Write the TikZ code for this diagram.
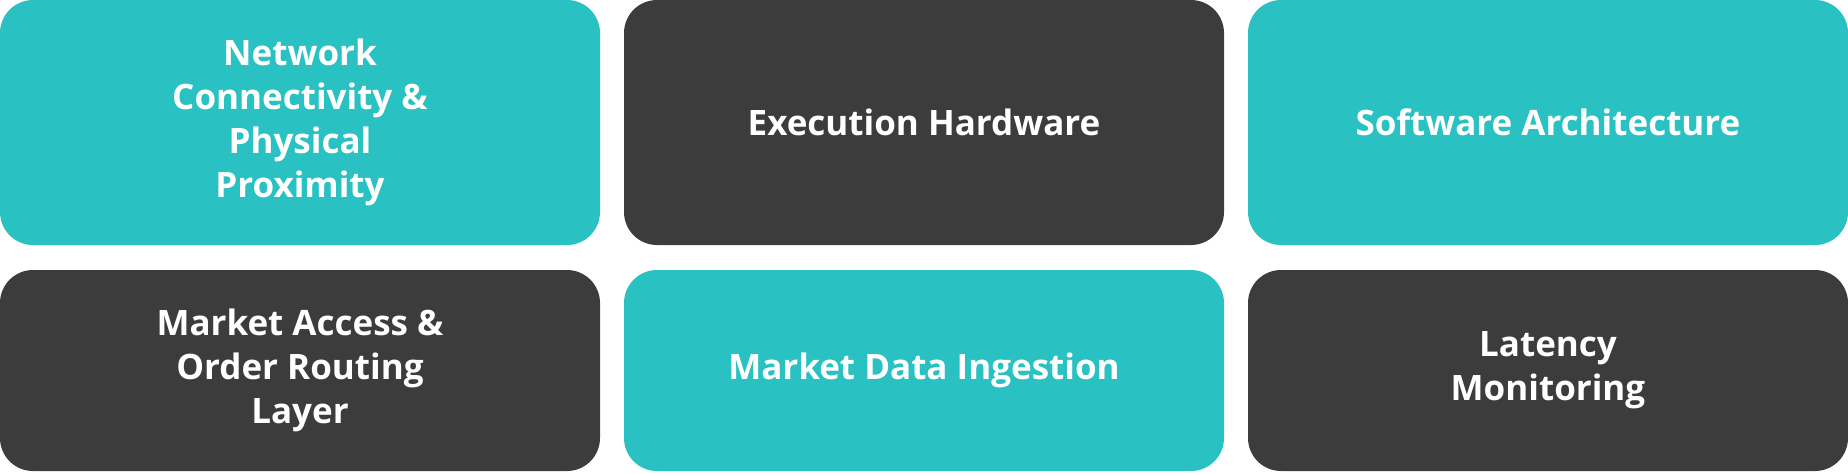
\documentclass[tikz,border=0pt]{standalone}
\usepackage{fontspec}
\setmainfont{Open Sans}
\definecolor{tealfill}{HTML}{2AC1C2}
\definecolor{darkfill}{HTML}{3C3C3C}
\tikzset{
	tile/.style={inner sep=0pt, minimum width=300pt, rounded corners=16.5pt, text=white, align=center,
		font=\fontsize{17.5}{22}\selectfont\bfseries},
	tealtile/.style={tile, fill=tealfill},
	darktile/.style={tile, fill=darkfill},
}
\begin{document}
\begin{tikzpicture}[x=0.5pt,y=-0.5pt]
	\useasboundingbox (0,0) rectangle (1848,473);

	% gorny rzad
	\node[tealtile, minimum height=122.5pt] (network) at (300,122.5) {Network\\Connectivity \&\\Physical\\Proximity};
	\node[darktile, minimum height=122.5pt] (hardware) at (924,122.5) {Execution Hardware};
	\node[tealtile, minimum height=122.5pt] (software) at (1548,122.5) {Software Architecture};

	% dolny rzad
	\node[darktile, minimum height=100.5pt] (access) at (300,370.5) {Market Access \&\\Order Routing\\Layer};
	\node[tealtile, minimum height=100.5pt] (ingestion) at (924,370.5) {Market Data Ingestion};
	\node[darktile, minimum height=100.5pt] (latency) at (1548,370.5) {Latency\\Monitoring};
\end{tikzpicture}
\end{document}
